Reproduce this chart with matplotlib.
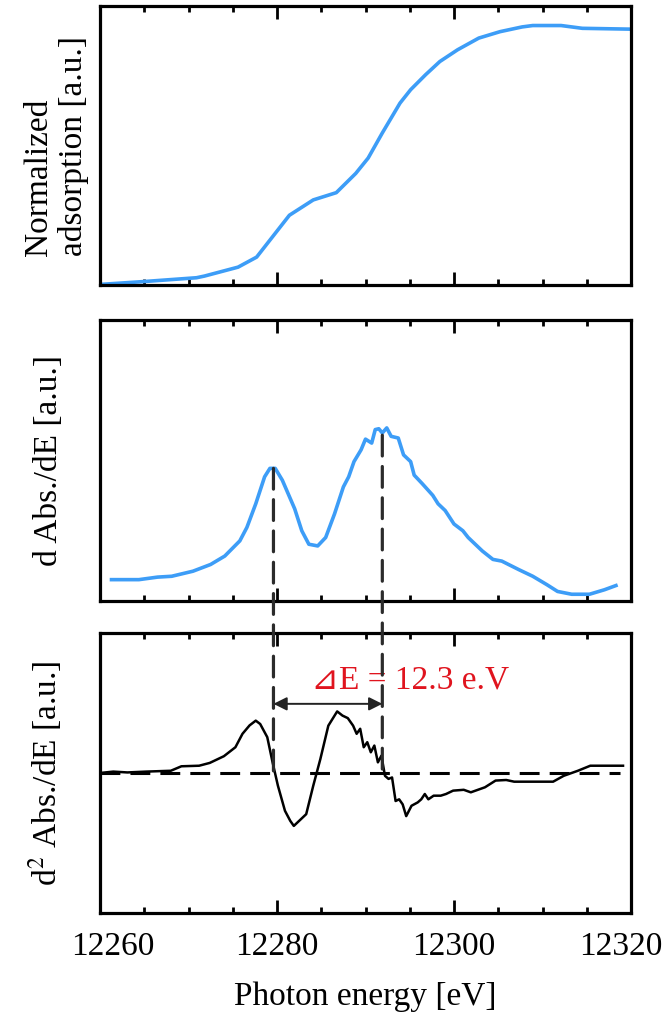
import numpy as np
import matplotlib.pyplot as plt
from matplotlib.patches import ConnectionPatch
from matplotlib.ticker import MultipleLocator
from matplotlib.transforms import ScaledTranslation

plt.rcParams['font.family'] = ['Liberation Serif', 'DejaVu Sans']
plt.rcParams['mathtext.fontset'] = 'stix'
plt.rcParams['font.size'] = 24

# normalized absorption (top)
e_abs = [12260.0, 12264.8, 12270.9, 12271.8, 12275.6, 12277.7, 12279.5, 12281.4,
         12284.1, 12286.7, 12288.9, 12290.3, 12291.9, 12293.9, 12295.1, 12296.8,
         12298.4, 12300.4, 12302.8, 12305.2, 12307.7, 12308.9, 12312.1, 12314.5, 12320.0]
abs_val = [0.002, 0.012, 0.026, 0.032, 0.064, 0.100, 0.173, 0.250,
           0.305, 0.331, 0.400, 0.455, 0.545, 0.652, 0.700, 0.754,
           0.801, 0.843, 0.885, 0.908, 0.925, 0.930, 0.930, 0.920, 0.917]

# first derivative (middle)
e_d1 = [12261.3, 12264.4, 12266.5, 12268.1, 12270.5, 12272.5, 12274.1, 12275.8,
        12276.6, 12277.6, 12278.6, 12279.2, 12279.8, 12280.6, 12282.0, 12282.8,
        12283.6, 12284.6, 12285.5, 12286.5, 12287.5, 12288.1, 12288.7, 12289.5,
        12290.0, 12290.7, 12291.1, 12291.5, 12291.9, 12292.4, 12292.9, 12293.7,
        12294.3, 12295.1, 12295.5, 12296.4, 12297.6, 12298.2, 12299.0, 12300.0,
        12301.0, 12301.6, 12303.2, 12304.4, 12305.4, 12307.3, 12308.9, 12310.5,
        12311.7, 12313.3, 12315.3, 12317.0, 12318.3]
d1_val = [0.076, 0.076, 0.085, 0.088, 0.106, 0.130, 0.160, 0.214,
          0.262, 0.346, 0.442, 0.472, 0.472, 0.430, 0.328, 0.250,
          0.202, 0.196, 0.226, 0.310, 0.406, 0.442, 0.496, 0.538,
          0.576, 0.562, 0.610, 0.613, 0.598, 0.616, 0.586, 0.580,
          0.520, 0.496, 0.448, 0.418, 0.376, 0.346, 0.322, 0.274,
          0.250, 0.226, 0.178, 0.148, 0.142, 0.112, 0.088, 0.058,
          0.034, 0.024, 0.024, 0.040, 0.055]

# second derivative (bottom)
e_d2 = [12260.0, 12261.5, 12263.1, 12265.2, 12268.0, 12269.2, 12271.2, 12272.4,
        12274.0, 12275.3, 12276.1, 12276.9, 12277.6, 12278.1, 12278.9, 12279.5,
        12280.1, 12280.9, 12281.5, 12281.9, 12282.5, 12283.3, 12284.1, 12284.9,
        12285.8, 12286.8, 12287.4, 12288.0, 12288.6, 12289.0, 12289.4, 12289.8,
        12290.2, 12290.6, 12291.0, 12291.4, 12291.8, 12292.2, 12292.6, 12293.0,
        12293.4, 12293.8, 12294.2, 12294.6, 12295.2, 12295.9, 12296.3, 12296.7,
        12297.1, 12297.7, 12298.5, 12299.1, 12299.9, 12301.1, 12301.9, 12303.5,
        12304.7, 12305.9, 12306.8, 12311.2, 12312.4, 12314.0, 12315.4, 12319.1]
d2_val = [0.000, 0.005, 0.002, 0.005, 0.008, 0.024, 0.026, 0.036,
          0.060, 0.092, 0.140, 0.170, 0.187, 0.175, 0.128, 0.038,
          -0.045, -0.135, -0.171, -0.189, -0.171, -0.147, -0.045, 0.050,
          0.169, 0.220, 0.205, 0.196, 0.169, 0.140, 0.158, 0.092,
          0.110, 0.074, 0.098, 0.038, 0.062, -0.010, -0.021, -0.016,
          -0.100, -0.094, -0.112, -0.154, -0.117, -0.105, -0.094, -0.075,
          -0.094, -0.081, -0.081, -0.075, -0.063, -0.060, -0.069, -0.051,
          -0.027, -0.025, -0.031, -0.031, -0.010, 0.008, 0.026, 0.026]

peak1 = 12279.6
peak2 = 12291.9
peak1_h = 0.472
peak2_h = 0.59

blue = '#3D9DF7'
dash = (0, (6.5, 3.3))

fig = plt.figure(figsize=(6.68, 10.24), dpi=100)
left, width = 100 / 668, 531 / 668
ax1 = fig.add_axes([left, 1 - 285 / 1024, width, 279 / 1024])
ax2 = fig.add_axes([left, 1 - 601 / 1024, width, 281 / 1024])
ax3 = fig.add_axes([left, 1 - 913 / 1024, width, 280 / 1024])

ax1.plot(e_abs, abs_val, color=blue, lw=2.6)
ax2.plot(e_d1, d1_val, color=blue, lw=2.6)
ax3.plot(e_d2, d2_val, color='black', lw=1.8)
ax3.plot([12260, 12318.8], [0, 0], color='black', lw=2.2, ls=dash)

ax1.set_ylim(0, 1)
ax2.set_ylim(0, 1)
ax3.set_ylim(-0.5, 0.5)

for ax in (ax1, ax2, ax3):
    ax.set_xlim(12260, 12320)
    ax.xaxis.set_major_locator(MultipleLocator(20))
    ax.xaxis.set_minor_locator(MultipleLocator(5))
    ax.tick_params(axis='x', which='both', direction='in', top=True, bottom=True,
                   width=2.0, pad=13)
    ax.tick_params(axis='x', which='major', length=9.5)
    ax.tick_params(axis='x', which='minor', length=4.5)
    ax.tick_params(axis='y', left=False, right=False, labelleft=False)
    for s in ax.spines.values():
        s.set_linewidth(2.3)
ax1.tick_params(axis='x', labelbottom=False)
ax2.tick_params(axis='x', labelbottom=False)

ax1.set_ylabel('Normalized\nadsorption [a.u.]', multialignment='left', linespacing=1.15)
ax1.yaxis.set_label_coords(-0.021, 0.5)
ax2.set_ylabel('d Abs./dE [a.u.]')
ax2.yaxis.set_label_coords(-0.068, 0.5)
ax3.set_ylabel(r'd$^{2}$ Abs./dE [a.u.]')
ax3.yaxis.set_label_coords(-0.068, 0.5)
ax3.set_xlabel('Photon energy [eV]', labelpad=14)

# end tick labels pulled inward as in the original
fig.canvas.draw()
ticks = ax3.xaxis.get_major_ticks()
locs = ax3.xaxis.get_majorticklocs()
for t, loc in zip(ticks, locs):
    if abs(loc - 12260) < 1e-6:
        t.label1.set_transform(t.label1.get_transform() + ScaledTranslation(0.13, 0, fig.dpi_scale_trans))
    elif abs(loc - 12320) < 1e-6:
        t.label1.set_transform(t.label1.get_transform() + ScaledTranslation(-0.10, 0, fig.dpi_scale_trans))

for x, h in ((peak1, peak1_h), (peak2, peak2_h)):
    con = ConnectionPatch(xyA=(x, h), coordsA=ax2.transData, xyB=(x, 0), coordsB=ax3.transData,
                          color='#2b2b2b', lw=2.3, ls=dash, shrinkA=0, shrinkB=0)
    fig.add_artist(con)

ax3.annotate('', xy=(peak1, 0.247), xytext=(peak2, 0.247),
             arrowprops=dict(arrowstyle='<|-|>', color='#222222', lw=1.4,
                             mutation_scale=20, shrinkA=0, shrinkB=0))
ax3.text(12295.0, 0.33, '⊿E = 12.3 e.V', color='#E0141E', ha='center', va='center',
         fontsize=24, family=['Liberation Serif', 'DejaVu Sans'])

fig.savefig('out.png', dpi=100)
